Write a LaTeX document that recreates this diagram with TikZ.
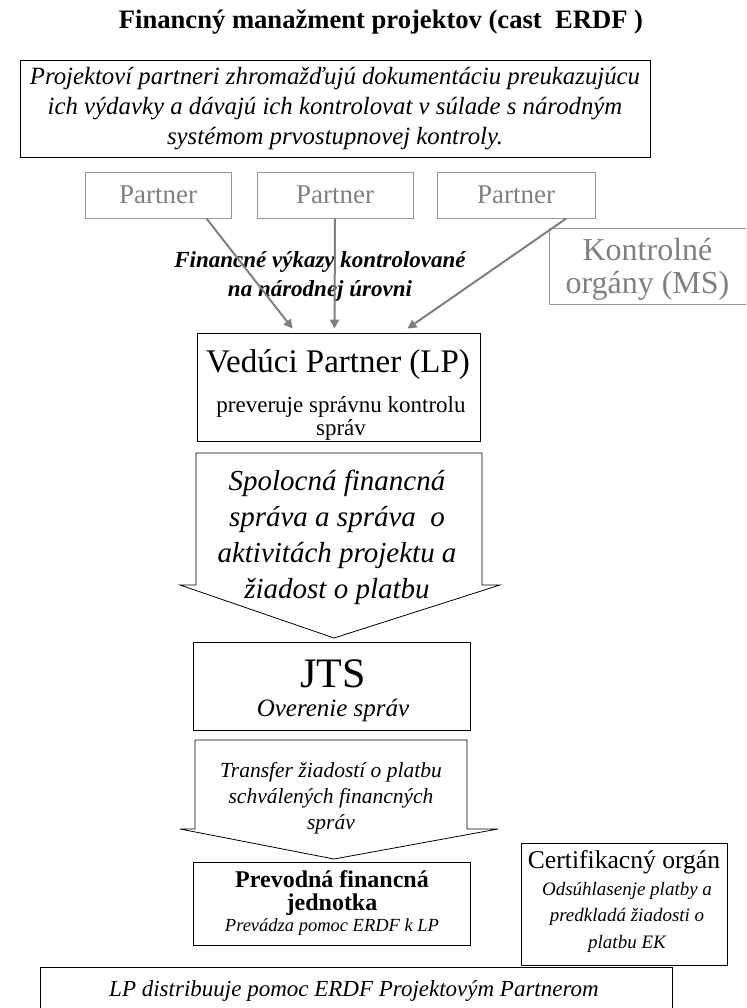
\documentclass[tikz,border=0pt]{standalone}
\usepackage{fontspec}
\setmainfont{Liberation Serif}
\usetikzlibrary{arrows.meta}
\definecolor{pgray}{RGB}{128,128,128}
\definecolor{pline}{RGB}{150,150,150}
\tikzset{
  box/.style={draw=black, line width=0.8pt, inner sep=0pt},
  gbox/.style={draw=pline, line width=0.8pt, inner sep=0pt, align=center, text=pgray},
  txt/.style={inner sep=0pt, align=center},
  garrow/.style={draw=pgray, line width=2pt, -{Triangle[length=9pt,width=9pt]}},
  barrow/.style={draw=black, line width=0.8pt, fill=white}
}
\newcommand{\fsz}[2]{\fontsize{#1}{#2}\selectfont}
\begin{document}
\begin{tikzpicture}[x=1pt,y=-1pt]
\useasboundingbox (0,0) rectangle (746,1008);
\clip (0,0) rectangle (746,1008);
% title
\node[txt, font=\fsz{26.6}{28}\bfseries] (title) at (381,22) {Financný manažment projektov (cast\ \ ERDF )};
% top box
\node[box, minimum width=630pt, minimum height=97pt, align=center, font=\fsz{24.8}{30}\itshape] (top) at (335,108.5)
 {Projektoví partneri zhromažďujú dokumentáciu preukazujúcu\\ich výdavky a dávajú ich kontrolovat v súlade s národným\\systémom prvostupnovej kontroly.};
% partners
\node[gbox, minimum width=146pt, minimum height=46pt, font=\fsz{27}{30}] (p1) at (158,195) {Partner};
\node[gbox, minimum width=156pt, minimum height=46pt, font=\fsz{27}{30}] (p2) at (335,195) {Partner};
\node[gbox, minimum width=158pt, minimum height=46pt, font=\fsz{27}{30}] (p3) at (516,195) {Partner};
\node[gbox, minimum width=197pt, minimum height=76pt] (ko) at (647.5,266) {};
\node[txt, text=pgray, font=\fsz{32}{33}] (kot) at (647.5,269) {Kontrolné\\orgány (MS)};
% label
\node[txt, font=\fsz{23}{29}\bfseries\itshape] (lbl) at (320,276) {Financné výkazy kontrolované\\na národnej úrovni};
% LP
\node[box, minimum width=283pt, minimum height=108pt] (lp) at (338.5,387) {};
\node[txt, font=\fsz{33}{34}] (lpt) at (338,365) {Vedúci Partner (LP)};
\node[txt, font=\fsz{23}{23}] (lps) at (341,418) {preveruje správnu kontrolu\\správ};
% arrows partners -> LP
\draw[garrow] ([xshift=-25pt]p1.south east) -- ([xshift=96pt,yshift=4pt]lp.north west);
\draw[garrow] (p2.south) -- ([xshift=-4pt,yshift=4pt]lp.north);
\draw[garrow] ([xshift=-29pt]p3.south east) -- ([xshift=-73pt,yshift=4pt]lp.north east);
% block arrow 1
\draw[barrow] (196,453) -- (482,453) -- (482,585) -- (500,585) -- (334,638) -- (180,585) -- (196,585) -- cycle;
\node[txt, font=\fsz{29}{36}\itshape] (ba1) at (337,537) {Spolocná financná\\správa a správa\ \ o\\aktivitách projektu a\\žiadost o platbu};
% JTS
\node[box, minimum width=277pt, minimum height=88pt] (jts) at (331.5,686) {};
\node[txt, font=\fsz{42}{44}] (jtst) at (333,674) {JTS};
\node[txt, font=\fsz{25}{26}\itshape] (jtss) at (333,710) {Overenie správ};
% block arrow 2
\draw[barrow] (195,740) -- (467,740) -- (467,829) -- (498,829) -- (334,859) -- (180,829) -- (195,829) -- cycle;
\node[txt, font=\fsz{21.5}{26}\itshape] (ba2) at (331,798) {Transfer žiadostí o platbu\\schválených financných\\správ};
% Prevodna
\node[box, minimum width=277pt, minimum height=83pt] (pfj) at (331.5,903.5) {};
\node[txt, font=\fsz{24}{23}\bfseries] (pfjt) at (332,893) {Prevodná financná\\jednotka};
\node[txt, font=\fsz{18.5}{20}\itshape] (pfjs) at (332,927) {Prevádza pomoc ERDF k LP};
% Certifikacny
\node[box, minimum width=206pt, minimum height=122pt] (cert) at (624,904) {};
\node[txt, font=\fsz{25.6}{28}] (certt) at (624,862) {Certifikacný orgán};
\node[txt, font=\fsz{19}{26.5}\itshape] (certs) at (627,917) {Odsúhlasenje platby a\\predkladá žiadosti o\\platbu EK};
% bottom box
\node[box, minimum width=632pt, minimum height=80pt, anchor=north] (bot) at (356,967) {};
\node[txt, font=\fsz{23}{26}\itshape] (bott) at (354,991) {LP distribuuje pomoc ERDF Projektovým Partnerom};
\end{tikzpicture}
\end{document}
